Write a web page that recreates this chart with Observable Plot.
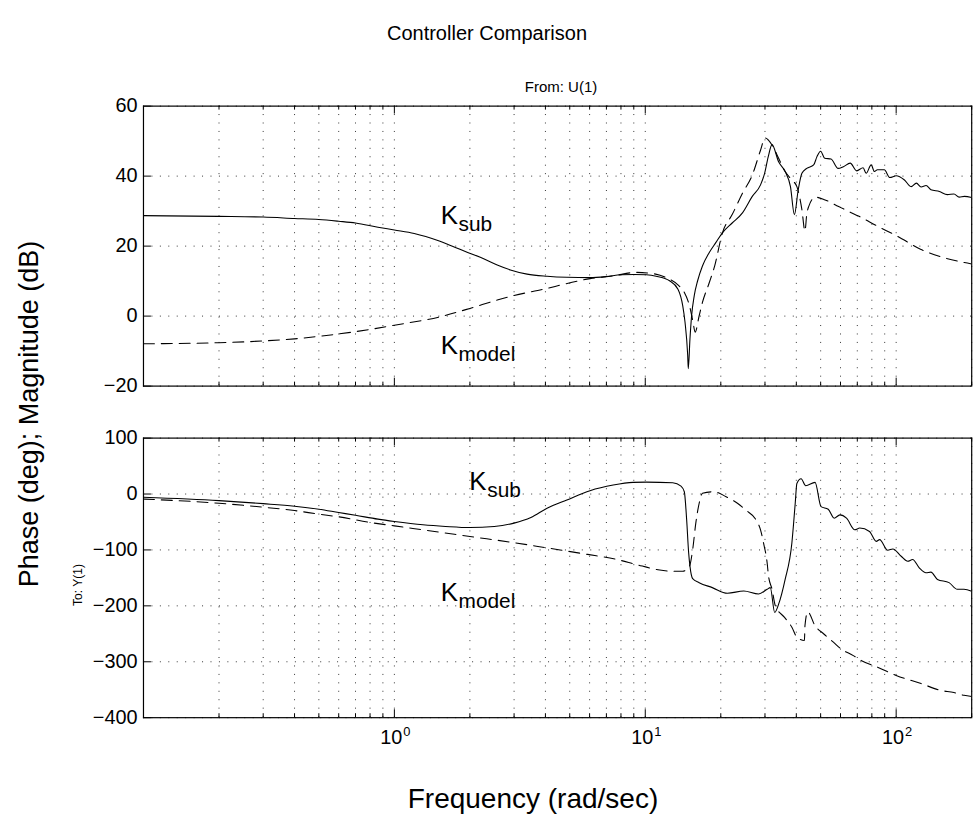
<!DOCTYPE html>
<html><head><meta charset="utf-8">
<script src="https://cdn.jsdelivr.net/npm/d3@7"></script>
<script src="https://cdn.jsdelivr.net/npm/@observablehq/plot@0.6"></script>
<style>
html,body{margin:0;padding:0;background:#fff;overflow:hidden;}
#root{position:relative;width:973px;height:822px;font-family:"Liberation Sans",Arial,Helvetica,sans-serif;color:#000;overflow:hidden;}
.abs{position:absolute;white-space:nowrap;line-height:1;}
svg{position:absolute;left:0;overflow:visible;}
</style>
</head><body>
<div id="root">
  <div class="abs" id="title" style="left:487px;top:23px;font-size:20px;transform:translateX(-50%)">Controller Comparison</div>
  <div class="abs" id="from" style="left:561px;top:79px;font-size:15px;transform:translateX(-50%)">From: U(1)</div>
  <div class="abs" id="to" style="left:78px;top:585px;font-size:12px;transform:translate(-50%,-50%) rotate(-90deg)">To: Y(1)</div>
  <div class="abs" id="ylab" style="left:29px;top:414px;font-size:27px;transform:translate(-50%,-50%) rotate(-90deg)">Phase (deg); Magnitude (dB)</div>
  <div class="abs" id="xlab" style="left:533px;top:785px;font-size:28px;transform:translateX(-50%)">Frequency (rad/sec)</div>
</div>
<script>
// ---------- data ----------
const xMajorTicks = [1, 10, 100];
const xMajorExp = ["0", "1", "2"];
const xMinorTicks = [0.2,0.3,0.4,0.5,0.6,0.7,0.8,0.9,2,3,4,5,6,7,8,9,20,30,40,50,60,70,80,90,200];
const magTicks = [-20, 0, 20, 40, 60];
const phaseTicks = [-400, -300, -200, -100, 0, 100];

// Magnitude, K_sub (solid)
const magSubF = [0.1,0.2,0.3,0.4,0.5,0.6,0.7,0.86,1.0,1.2,1.5,1.75,1.96,2.2,2.57,2.9,3.38,4.06,4.87,6.02,7.0,8.0,9.0,10.1,11.05,12.5,13.5,14.1,14.4,14.76,14.84,15.07,15.3,15.67,16.17,16.9,17.97,19.1,20.3,22.2,24.4,26.7,28.8,29.9,30.9,32.0,34.0,36.1,37.9,39.3,40.7,42.1,44.0,46.9,48.3,50.0,51.9,55.0,58.7,61.6,65.6,69.6,73.8,75.9,79.5,81.9,84.2,89.7,94.3,100,107.9,114.7,120.4,125.7,131.6,137.6,148.7,160,170,178.3,187,200];
const magSubDb = [28.7,28.5,28.3,27.9,27.6,27.1,26.6,25.4,24.6,23.6,21.5,19.6,18.2,16.8,14.6,13.2,12.0,11.4,11.1,11.0,11.3,11.8,11.9,11.8,11.4,10.1,7.7,3.0,-1.7,-11.2,-15.0,-6.5,0.1,5.8,10.1,14.3,18.1,21.0,23.8,26.6,29.5,34.2,37.5,40.8,45.5,49.0,44.1,41.3,37.0,29.0,36.1,40.8,42.2,43.2,45.5,47.1,45.1,44.9,42.2,42.7,43.7,41.5,42.4,40.8,43.2,41.3,41.8,41.8,39.6,40.1,38.9,37.0,38.0,36.9,37.3,36.1,35.6,34.7,34.9,34.0,34.2,33.9];

// Magnitude, K_model (dashed)
const magModelF = [0.1,0.2,0.3,0.4,0.5,0.6,0.8,1.0,1.5,2.0,2.57,3.0,4.06,4.73,6.03,7.45,9.2,11.0,12.1,13.6,14.3,15.0,15.5,15.8,16.4,16.9,18.0,18.9,20.3,22.2,24.4,26.7,28.8,30.0,32.0,34.0,36.1,38.4,40.2,42.1,43.3,44.0,44.8,47.6,52.1,59.0,64.7,71.1,84.2,101.3,125,155,187,200];
const magModelDb = [-7.9,-7.6,-7.1,-6.5,-5.8,-5.1,-3.8,-2.6,-0.3,2.2,4.6,5.9,7.9,9.1,10.7,11.5,12.5,12.0,11.0,8.7,6.8,3.0,-1.7,-4.6,0.1,3.9,9.6,14.3,23.8,29.0,35.1,40.3,47.4,50.9,48.9,45.1,41.3,38.9,37.0,30.4,24.3,29.0,31.3,34.0,33.2,31.3,29.9,28.5,25.7,22.8,19.1,16.7,15.3,14.9];

// Phase, K_sub (solid)
const phSubF = [0.1,0.2,0.3,0.4,0.5,0.6,0.7,0.86,1.0,1.3,1.6,2.0,2.5,3.0,3.5,4.06,4.87,6.02,7.45,8.94,10.09,12.87,13.88,14.31,14.62,14.89,15.07,15.45,16.4,18.5,21.25,24.7,28.3,30.6,31.5,32.8,34.0,36.1,38.4,39.6,40.2,41.8,43.6,47.5,50.2,53.6,56.6,59.7,63.4,68.4,71.6,78.3,83.3,85.9,92.6,97,104.7,111.2,116.3,123.6,131.5,137.5,146.1,162.5,175.3,186.3,200];
const phSubDeg = [-5.9,-11.8,-17.2,-21.8,-27.2,-33.1,-38,-44.9,-49,-55,-58,-60,-58,-52,-42,-25.4,-10.6,5.9,16,20.8,21.3,20.1,14.2,4.1,-46,-105,-129,-151.4,-158.5,-167.4,-177.5,-173.4,-178.8,-170.4,-167.4,-211.8,-197,-152.7,-87.5,-16.5,19,27.2,14.8,20.8,-22.5,-27.2,-43.2,-37.3,-43.2,-63.9,-60.9,-66.9,-84.7,-81.6,-100.6,-98.2,-111.3,-120.2,-117.2,-131.9,-140.8,-139.7,-152.7,-158.5,-170.4,-170.4,-174];

// Phase, K_model (dashed)
const phModelF = [0.1,0.2,0.3,0.4,0.5,0.6,0.8,1.0,1.5,2.0,3.0,4.06,5.89,7.7,9.2,11.1,12.6,14.1,15.0,15.45,15.9,16.4,16.9,18.8,21.0,23.3,25.1,27.6,28.8,29.6,30.6,31.0,32.0,33.0,35.9,38.4,40.2,43.1,43.3,44.4,47.5,51.5,56.2,60.3,67.5,72.5,84.2,100,125.7,150,169.9,186.3,200];
const phModelDeg = [-9,-16.5,-23.6,-29.6,-36,-40.8,-50.9,-57,-68,-76,-87,-96.4,-108,-117,-126,-135,-138,-138,-129,-99.4,-52,-16.5,1.3,4.1,-4.8,-16.5,-28.4,-46,-64,-87.5,-123,-147,-170,-200,-220.7,-238.4,-256,-262,-235.6,-210.7,-235.6,-250.3,-265,-277,-289,-297.7,-309.5,-324.4,-339,-351,-355,-360,-362];

// curve annotations (label, subscript, frequency, value)
const magNotes = [
  {base: "K", sub: "sub", f: 1.53, v: 26.2},
  {base: "K", sub: "model", f: 1.53, v: -10.7}
];
const phaseNotes = [
  {base: "K", sub: "sub", f: 1.99, v: 7.1},
  {base: "K", sub: "model", f: 1.53, v: -191.7}
];

// ---------- drawing ----------
const zip = (F, V) => F.map((f, i) => ({f, v: V[i]}));
const FONT = '"Liberation Sans", Arial, Helvetica, sans-serif';
const W = 980, ML = 144, MR = 1.8;
const PW = W - ML - MR;

function panel({yDomain, yTicks, solid, dashed, notes, top, mt, ph, mb, xLabels}) {
  const marks = [
    Plot.gridX(xMinorTicks.concat(xMajorTicks), {stroke: "#000", strokeOpacity: 0.8, strokeDasharray: "1,7.5"}),
    Plot.gridY(yTicks, {stroke: "#000", strokeOpacity: 0.8, strokeDasharray: "1,7.5"}),
    Plot.line(zip(solid[0], solid[1]), {x: "f", y: "v", stroke: "#000", strokeWidth: 1.1, curve: "monotone-x", clip: true}),
    Plot.line(zip(dashed[0], dashed[1]), {x: "f", y: "v", stroke: "#000", strokeWidth: 1.1, strokeDasharray: "11,7", curve: "monotone-x", clip: true}),
    // inward tick marks
    Plot.tickX(xMajorTicks, {x: d => d, insetTop: ph - 8, stroke: "#000"}),
    Plot.tickX(xMajorTicks, {x: d => d, insetBottom: ph - 8, stroke: "#000"}),
    Plot.tickX(xMinorTicks, {x: d => d, insetTop: ph - 4, stroke: "#000"}),
    Plot.tickX(xMinorTicks, {x: d => d, insetBottom: ph - 4, stroke: "#000"}),
    Plot.tickY(yTicks, {y: d => d, insetRight: PW - 8, stroke: "#000"}),
    Plot.axisY({ticks: yTicks, tickSize: 0, tickPadding: 6, fontSize: 20, label: null,
      tickFormat: d => d < 0 ? "\u2212" + Math.abs(d) : String(d)}),
    Plot.frame({stroke: "#000", strokeWidth: 1.2}),
    Plot.text(notes, {x: "f", y: "v", text: "base", textAnchor: "start", fontSize: 26, lineAnchor: "bottom"}),
    Plot.text(notes, {x: "f", y: "v", text: "sub", textAnchor: "start", fontSize: 21, lineAnchor: "bottom", dx: 18, dy: 7})
  ];
  if (xLabels) {
    marks.push(
      Plot.text(xMajorTicks, {x: d => d, frameAnchor: "bottom", text: () => "10", textAnchor: "end", dx: 8, dy: 27, fontSize: 20}),
      Plot.text(xMajorTicks, {x: d => d, frameAnchor: "bottom", text: (d, i) => xMajorExp[i], textAnchor: "start", dx: 9, dy: 18, fontSize: 13})
    );
  }
  const svg = Plot.plot({
    width: W, height: mt + ph + mb,
    marginLeft: ML, marginRight: MR, marginTop: mt, marginBottom: mb,
    style: {fontFamily: FONT, fontSize: "20px", color: "#000", background: "transparent", overflow: "visible"},
    x: {type: "log", domain: [0.1, 200], axis: null},
    y: {domain: yDomain},
    marks
  });
  svg.style.top = top + "px";
  document.getElementById("root").appendChild(svg);
}

panel({yDomain: [-20, 60], yTicks: magTicks, solid: [magSubF, magSubDb], dashed: [magModelF, magModelDb],
  notes: magNotes, top: 95, mt: 10.7, ph: 282, mb: 10, xLabels: false});
panel({yDomain: [-400, 100], yTicks: phaseTicks, solid: [phSubF, phSubDeg], dashed: [phModelF, phModelDeg],
  notes: phaseNotes, top: 425, mt: 12.7, ph: 281.6, mb: 50, xLabels: true});
</script>
</body></html>
